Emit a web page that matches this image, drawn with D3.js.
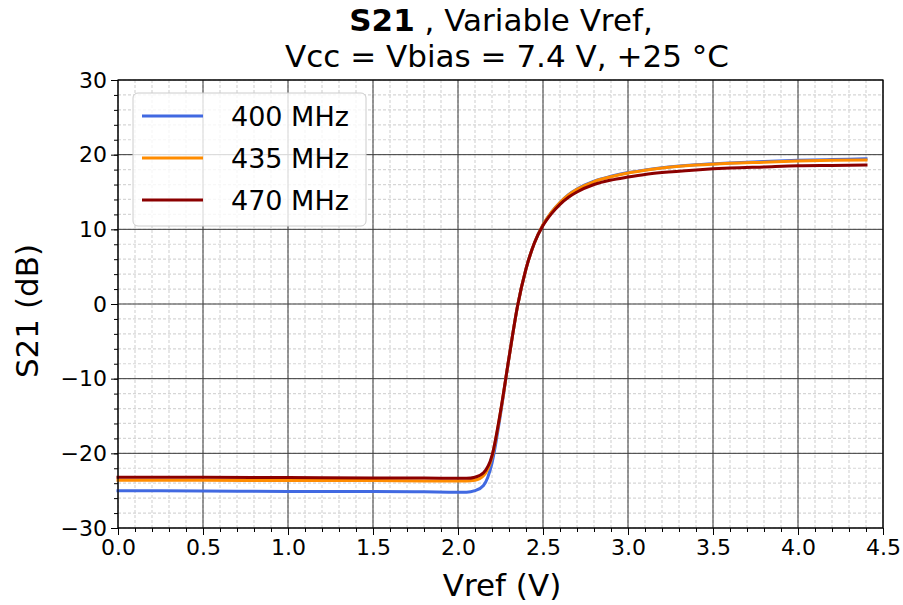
<!DOCTYPE html>
<html>
<head>
<meta charset="utf-8">
<script src="https://cdn.jsdelivr.net/npm/d3@7"></script>
<style>
  html, body { margin: 0; padding: 0; background: #fff; }
  svg { display: block; font-family: "DejaVu Sans", sans-serif; }
</style>
</head>
<body>
<svg id="chart" width="903" height="605"></svg>
<script>
// ---- data ----
const vref = [0, 0.5, 1.0, 1.5, 1.8, 2.0, 2.05, 2.1, 2.15, 2.2, 2.25, 2.3, 2.35, 2.4, 2.45, 2.5, 2.55, 2.6, 2.65, 2.7, 2.8, 2.9, 3.0, 3.1, 3.2, 3.4, 3.6, 3.8, 4.0, 4.2, 4.4];
const s21_400 = [-25.0, -25.05, -25.1, -25.1, -25.15, -25.2, -25.2, -25.0, -24.3, -21.3, -14.8, -7.2, -0.3, 4.7, 8.2, 10.6, 12.3, 13.6, 14.65, 15.4, 16.45, 17.1, 17.6, 17.95, 18.25, 18.65, 18.9, 19.1, 19.25, 19.35, 19.45];
const s21_435 = [-23.6, -23.6, -23.65, -23.65, -23.7, -23.7, -23.7, -23.6, -23.0, -20.5, -14.5, -7.2, -0.3, 4.7, 8.2, 10.6, 12.3, 13.6, 14.6, 15.35, 16.4, 17.05, 17.55, 17.9, 18.2, 18.6, 18.85, 19.0, 19.15, 19.25, 19.3];
const s21_470 = [-23.2, -23.2, -23.25, -23.3, -23.3, -23.35, -23.35, -23.2, -22.6, -20.3, -14.4, -7.2, -0.3, 4.7, 8.2, 10.5, 12.1, 13.35, 14.3, 15.0, 16.0, 16.6, 17.0, 17.35, 17.6, 17.95, 18.2, 18.35, 18.5, 18.55, 18.6];
const seriesNames = ["400 MHz", "435 MHz", "470 MHz"];
const seriesColors = ["#4169e1", "#ff8c00", "#8b0000"];
const xTicks = [0, 0.5, 1.0, 1.5, 2.0, 2.5, 3.0, 3.5, 4.0, 4.5];
const yTicks = [-30, -20, -10, 0, 10, 20, 30];

const series = [s21_400, s21_435, s21_470].map((vals, i) => ({
  name: seriesNames[i], color: seriesColors[i],
  points: vref.map((v, j) => [v, vals[j]])
}));

// ---- layout ----
const svg = d3.select("#chart");
const L = 118, R = 883, T = 80, B = 528;
const x = d3.scaleLinear().domain([0, 4.5]).range([L, R]);
const y = d3.scaleLinear().domain([-30, 30]).range([B, T]);

const xMinor = d3.range(0, 4.5001, 0.1).map(v => +v.toFixed(2));
const yMinor = d3.range(-30, 30.001, 2);

// minor grid
const g = svg.append("g");
g.selectAll(".mxg").data(xMinor).join("line")
  .attr("x1", d => x(d)).attr("x2", d => x(d)).attr("y1", T).attr("y2", B)
  .attr("stroke", "#d6d6d6").attr("stroke-width", 1.2).attr("stroke-dasharray", "3,2");
g.selectAll(".myg").data(yMinor).join("line")
  .attr("y1", d => y(d)).attr("y2", d => y(d)).attr("x1", L).attr("x2", R)
  .attr("stroke", "#d6d6d6").attr("stroke-width", 1.2).attr("stroke-dasharray", "3,2");
// major grid
g.selectAll(".Mxg").data(xTicks).join("line")
  .attr("x1", d => x(d)).attr("x2", d => x(d)).attr("y1", T).attr("y2", B)
  .attr("stroke", "#3a3a3a").attr("stroke-width", 1);
g.selectAll(".Myg").data(yTicks).join("line")
  .attr("y1", d => y(d)).attr("y2", d => y(d)).attr("x1", L).attr("x2", R)
  .attr("stroke", "#3a3a3a").attr("stroke-width", 1);

// lines
const line = d3.line().x(d => x(d[0])).y(d => y(d[1])).curve(d3.curveMonotoneX);
svg.append("g").selectAll("path").data(series).join("path")
  .attr("d", d => line(d.points))
  .attr("fill", "none").attr("stroke", d => d.color)
  .attr("stroke-width", 3).attr("stroke-linejoin", "round").attr("stroke-linecap", "square");

// axes
const fmtX = d => d.toFixed(1);
const fmtY = d => (d < 0 ? "\u2212" + Math.abs(d) : String(d));
const xAxis = svg.append("g").attr("transform", `translate(0,${B})`)
  .call(d3.axisBottom(x).tickValues(xTicks).tickFormat(fmtX).tickSize(7).tickPadding(4));
const xAxisMinor = svg.append("g").attr("transform", `translate(0,${B})`)
  .call(d3.axisBottom(x).tickValues(xMinor).tickFormat("").tickSize(4));
const yAxis = svg.append("g").attr("transform", `translate(${L},0)`)
  .call(d3.axisLeft(y).tickValues(yTicks).tickFormat(fmtY).tickSize(7).tickPadding(4));
const yAxisMinor = svg.append("g").attr("transform", `translate(${L},0)`)
  .call(d3.axisLeft(y).tickValues(yMinor).tickFormat("").tickSize(4));
[xAxis, yAxis, xAxisMinor, yAxisMinor].forEach(a => {
  a.select(".domain").remove();
  a.selectAll("line").attr("stroke", "#000").attr("stroke-width", 1);
  a.selectAll("text").attr("font-family", "DejaVu Sans").attr("font-size", 22).attr("fill", "#000");
});
// frame
svg.append("rect").attr("x", L).attr("y", T).attr("width", R - L).attr("height", B - T)
  .attr("fill", "none").attr("stroke", "#000").attr("stroke-width", 1.2);

// legend
const lg = svg.append("g");
lg.append("rect").attr("x", 133).attr("y", 93).attr("width", 233).attr("height", 133)
  .attr("rx", 5).attr("fill", "#fff").attr("fill-opacity", 0.8).attr("stroke", "#cccccc");
series.forEach((s, i) => {
  const yy = 116 + i * 42;
  lg.append("line").attr("x1", 142).attr("x2", 203).attr("y1", yy).attr("y2", yy)
    .attr("stroke", s.color).attr("stroke-width", 3);
  lg.append("text").attr("x", 231).attr("y", yy).attr("dy", "0.36em")
    .attr("font-size", 27).attr("fill", "#000").text(s.name);
});

// titles
const title = svg.append("text").attr("text-anchor", "middle").attr("font-size", 31).attr("fill", "#000");
title.append("tspan").attr("x", 501).attr("y", 31).attr("font-weight", "bold").text("S21");
title.append("tspan").text(" , Variable Vref,");
svg.append("text").attr("x", 507).attr("y", 67).attr("text-anchor", "middle")
  .attr("font-size", 31).attr("fill", "#000").text("Vcc = Vbias = 7.4 V, +25 \u00B0C");

svg.append("text").attr("x", 502).attr("y", 596).attr("text-anchor", "middle")
  .attr("font-size", 31).attr("fill", "#000").text("Vref (V)");
svg.append("text").attr("transform", `translate(38,311) rotate(-90)`).attr("text-anchor", "middle")
  .attr("font-size", 31).attr("fill", "#000").text("S21 (dB)");
</script>
</body>
</html>
